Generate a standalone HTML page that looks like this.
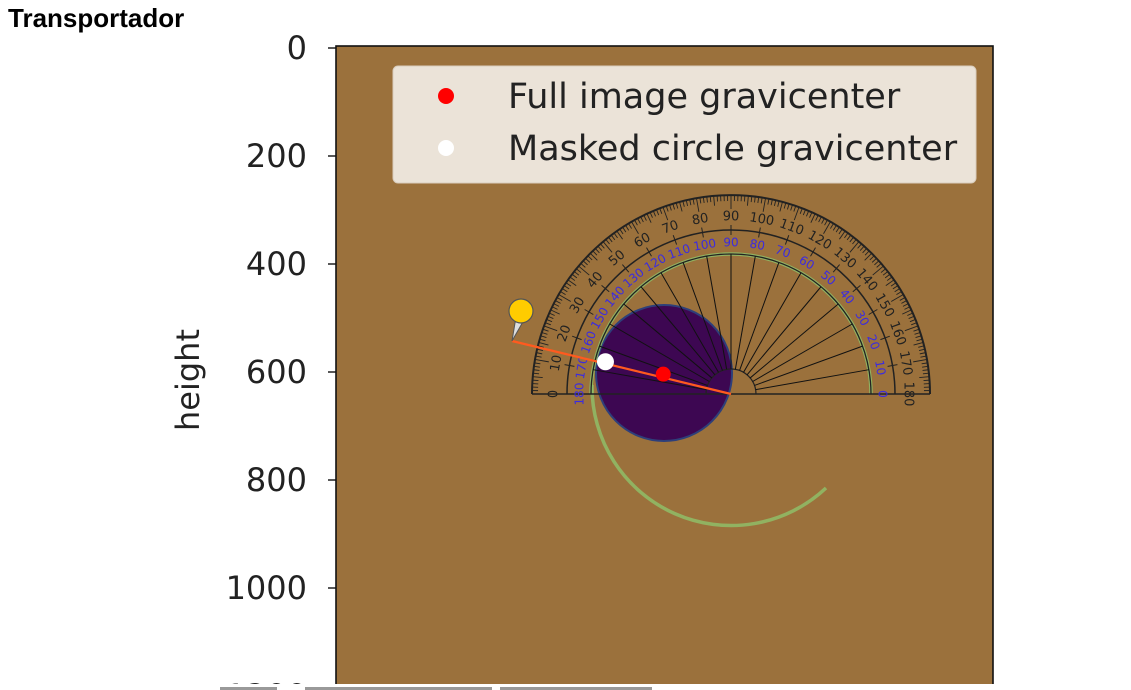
<!DOCTYPE html>
<html><head><meta charset="utf-8"><style>
html,body{margin:0;padding:0;background:#fff;width:1131px;height:690px;overflow:hidden}
svg{display:block}
text{font-family:"DejaVu Sans","Liberation Sans",sans-serif}
</style></head><body>
<svg id="c" width="1131" height="690" viewBox="0 0 1131 690">
<text x="8" y="27" font-weight="bold" font-size="26" fill="#000" style="font-family:'Liberation Sans',sans-serif">Transportador</text>
<g id="plot"></g>
<rect x="0" y="684" width="1131" height="6" fill="#fff"/>
<rect x="220" y="687" width="57" height="3" fill="#999"/>
<rect x="305" y="687" width="187" height="3" fill="#999"/>
<rect x="500" y="687" width="152" height="3" fill="#999"/>
</svg>
<script>
const yTicks=[0,200,400,600,800,1000,1200];
const yTickLabels=["0","200","400","600","800","1000","1200"];
const fullCenter=[606,604];
const maskedCenter=[499,581];
const legendLabels=["Full image gravicenter","Masked circle gravicenter"];
const NS="http://www.w3.org/2000/svg";
const AX={l:336,r:993,t:46,b:700};
const sc=0.54;
function Y(v){return 48+v*sc;}
function X(v){return 336+v*sc;}
function mk(tag,attrs,parent){const e=document.createElementNS(NS,tag);for(const k in attrs)e.setAttribute(k,attrs[k]);(parent||plot).appendChild(e);return e;}
const plot=document.getElementById('plot');
let e=mk('rect',{x:AX.l,y:AX.t,width:AX.r-AX.l,height:AX.b-AX.t,fill:'#9b713c'});


const cx=731,cy=394;
e=mk('circle',{cx:664,cy:373,r:68,fill:'#3d0752',stroke:'#2e3f7a','stroke-width':2});


e=mk('path',{d:`M${cx-139},${385} A139,139 0 0 0 ${cx+95},${488}`,fill:'none',stroke:'#8fc36a','stroke-width':3.5,opacity:0.8});


const prot=mk('g',{});


function P(r,deg){const a=deg*Math.PI/180;return [cx-r*Math.cos(a),cy-r*Math.sin(a)];}
function arc(r,w,col,g){mk('path',{d:`M${cx-r},${cy} A${r},${r} 0 0 1 ${cx+r},${cy}`,fill:'none',stroke:col,'stroke-width':w},g);}
arc(199,2,'#222',prot);arc(164,1.5,'#222',prot);
mk('path',{d:`M${cx-140},${cy} A140,140 0 0 1 ${cx+140},${cy}`,fill:'none',stroke:'#8fc36a','stroke-width':3.5,opacity:0.8},prot);
arc(140,1.3,'#222',prot);
arc(25,1.2,'#222',prot);
mk('line',{x1:cx-199,y1:cy,x2:cx+199,y2:cy,stroke:'#222','stroke-width':1.5},prot);
for(let d=0;d<=180;d++){const len=d%10==0?14:(d%5==0?10:6);const a=P(199,d),b=P(199-len,d);mk('line',{x1:a[0],y1:a[1],x2:b[0],y2:b[1],stroke:'#222','stroke-width':0.9},prot);}
for(let d=0;d<=180;d+=10){const a=P(164+5,d),b=P(164-5,d);mk('line',{x1:a[0],y1:a[1],x2:b[0],y2:b[1],stroke:'#222','stroke-width':1},prot);
 if(d>0&&d<180){const s=P(25,d),t=P(140,d);mk('line',{x1:s[0],y1:s[1],x2:t[0],y2:t[1],stroke:'#111','stroke-width':1},prot);}
 const n=P(177,d);let t=mk('text',{x:n[0],y:n[1],'font-size':13,fill:'#222','text-anchor':'middle','dominant-baseline':'middle',transform:`rotate(${d-90} ${n[0]} ${n[1]})`},prot);t.textContent=String(d);
 const m=P(151,d);t=mk('text',{x:m[0],y:m[1],'font-size':12,fill:'#3b2be0','text-anchor':'middle','dominant-baseline':'middle',transform:`rotate(${d-90} ${m[0]} ${m[1]})`},prot);t.textContent=String(180-d);}
e=mk('line',{x1:512,y1:341,x2:cx,y2:cy,stroke:'#ff5a1f','stroke-width':2.2});


e=mk('path',{d:'M512,341 L516,317 L524,320 Z',fill:'#ddd',stroke:'#555','stroke-width':1});


e=mk('circle',{cx:521,cy:311,r:12,fill:'#ffcc00',stroke:'#555','stroke-width':1.2});


e=mk('circle',{cx:X(fullCenter[0]),cy:Y(fullCenter[1]),r:7.5,fill:'#ff0000'});


e=mk('circle',{cx:X(maskedCenter[0]),cy:Y(maskedCenter[1]),r:8.5,fill:'#ffffff'});


e=mk('rect',{x:AX.l,y:AX.t,width:AX.r-AX.l,height:AX.b-AX.t,fill:'none',stroke:'#111','stroke-width':1.6});


yTicks.forEach((v,i)=>{const y=Y(v);
 mk('line',{x1:AX.l-8,y1:y,x2:AX.l,y2:y,stroke:'#111','stroke-width':1.4});
 const t=mk('text',{x:307,y:y+11,'font-size':32,fill:'#222','text-anchor':'end'});
 t.textContent=yTickLabels[i];
 
 });
e=mk('text',{x:0,y:0,'font-size':32,fill:'#222','text-anchor':'middle',transform:'translate(199,380) rotate(-90)'});
e.textContent='height';


const lg=mk('g',{});


mk('rect',{x:393,y:66,width:583,height:117,rx:5,fill:'#ebe3d8',stroke:'#d8ccbc','stroke-width':1},lg);
const cols=['#ff0000','#ffffff'];
legendLabels.forEach((s,i)=>{const y=96+i*52;
 const c=mk('circle',{cx:446,cy:y,r:8,fill:cols[i]},lg);
 
 
 const t=mk('text',{x:508,y:y+12,'font-size':35,fill:'#222'},lg);t.textContent=s;
 
 });
</script>
</body></html>
